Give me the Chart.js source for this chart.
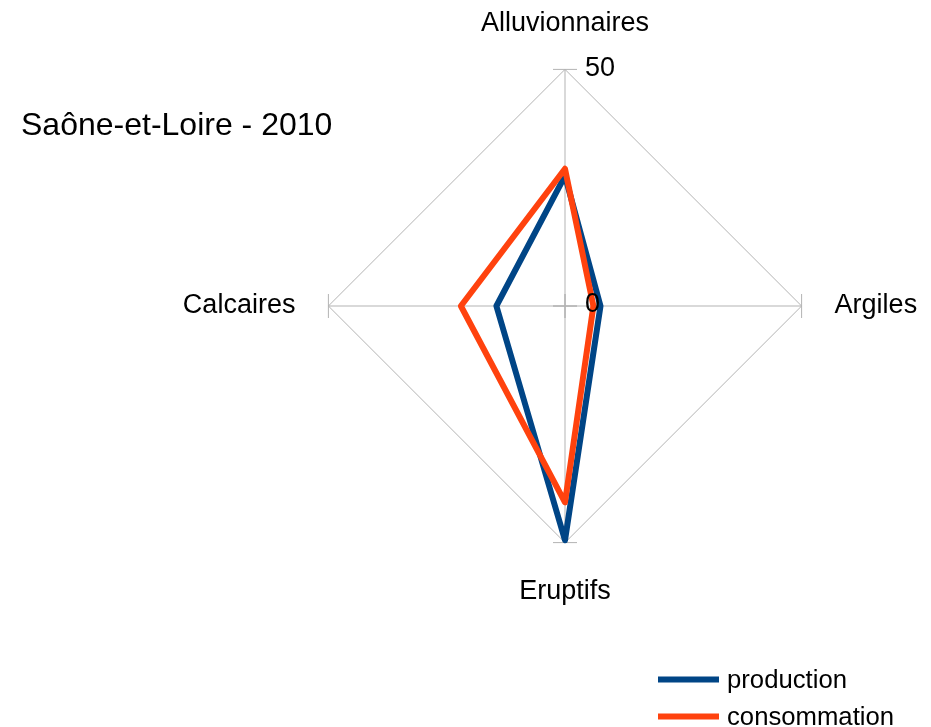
<!DOCTYPE html>
<html>
<head>
<meta charset="utf-8">
<script src="https://cdn.jsdelivr.net/npm/chart.js@4"></script>
<style>
  html, body { margin: 0; padding: 0; background: #fff; overflow: hidden; }
  #wrap { position: absolute; left: 0; top: 0; width: 1060px; height: 727px; }
</style>
</head>
<body>
<div id="wrap"><canvas id="myChart" width="1060" height="727"></canvas></div>
<script>
// data
let labels = ['Alluvionnaires', 'Argiles', 'Eruptifs', 'Calcaires'];
let production = [27.5, 7.5, 49.5, 14.5];
let consommation = [29, 6, 41.5, 22];
let seriesNames = ['production', 'consommation'];
let seriesColors = ['#004586', '#ff420e'];
let tickValues = [0, 50];
let chartTitle = 'Saône-et-Loire - 2010';

let chart = document.getElementById('myChart');
let fontFamily = "'Liberation Sans', Arial, sans-serif";

// axis tick marks, tick labels, title and legend
const extras = {
  id: 'extras',
  beforeDatasetsDraw(c) {
    let scale = c.scales.r;
    let ctx = c.ctx;
    ctx.save();
    ctx.strokeStyle = '#b3b3b3';
    ctx.lineWidth = 1;
    for (let i = 0; i < labels.length; i++) {
      let angle = scale.getIndexAngle(i) - Math.PI / 2;
      tickValues.forEach(function (v) {
        let p = scale.getPointPositionForValue(i, v);
        let dx = -Math.sin(angle) * 12;
        let dy = Math.cos(angle) * 12;
        ctx.beginPath();
        ctx.moveTo(p.x - dx, p.y - dy);
        ctx.lineTo(p.x + dx, p.y + dy);
        ctx.stroke();
      });
    }
    ctx.restore();
  },
  afterDraw(c) {
    let scale = c.scales.r;
    let ctx = c.ctx;
    ctx.save();
    ctx.fillStyle = '#000';

    // tick labels on the right of the vertical axis
    ctx.font = '27px ' + fontFamily;
    ctx.textAlign = 'left';
    ctx.textBaseline = 'middle';
    tickValues.forEach(function (v) {
      let y = scale.yCenter - scale.getDistanceFromCenterForValue(v);
      ctx.fillText(String(v), scale.xCenter + 20, y - 1);
    });

    // title
    ctx.font = '32px ' + fontFamily;
    ctx.textBaseline = 'alphabetic';
    ctx.fillText(chartTitle, 21, 135);

    // legend
    ctx.font = '25.7px ' + fontFamily;
    ctx.lineWidth = 6;
    ctx.lineCap = 'butt';
    for (let i = 0; i < seriesNames.length; i++) {
      let y = 679.5 + i * 37;
      ctx.strokeStyle = seriesColors[i];
      ctx.beginPath();
      ctx.moveTo(658, y);
      ctx.lineTo(719, y);
      ctx.stroke();
      ctx.fillStyle = '#000';
      ctx.fillText(seriesNames[i], 727, y + 8.5);
    }
    ctx.restore();
  }
};

const config = {
  type: 'radar',
  data: {
    labels: labels,
    datasets: [{
      label: seriesNames[0],
      data: production,
      borderColor: seriesColors[0],
      backgroundColor: seriesColors[0],
      borderWidth: 6,
      borderJoinStyle: 'round',
      pointRadius: 0,
      fill: false,
      order: 2
    }, {
      label: seriesNames[1],
      data: consommation,
      borderColor: seriesColors[1],
      backgroundColor: seriesColors[1],
      borderWidth: 6,
      borderJoinStyle: 'round',
      pointRadius: 0,
      fill: false,
      order: 1
    }]
  },
  options: {
    responsive: false,
    animation: false,
    devicePixelRatio: 1,
    layout: { padding: { left: 100, right: 30, top: 6, bottom: 118 } },
    plugins: {
      legend: { display: false },
      title: { display: false },
      tooltip: { enabled: false }
    },
    scales: {
      r: {
        min: 0,
        max: 50,
        ticks: { display: false, stepSize: 50 },
        grid: { color: '#b3b3b3', lineWidth: 1 },
        angleLines: { color: '#b3b3b3', lineWidth: 1 },
        pointLabels: {
          color: '#000',
          padding: function (ctx) { return ctx.index === 0 ? 30 : 33; },
          font: { family: fontFamily, size: 27 }
        }
      }
    }
  },
  plugins: [extras]
};

var myChart = new Chart(chart, config);
</script>
</body>
</html>
